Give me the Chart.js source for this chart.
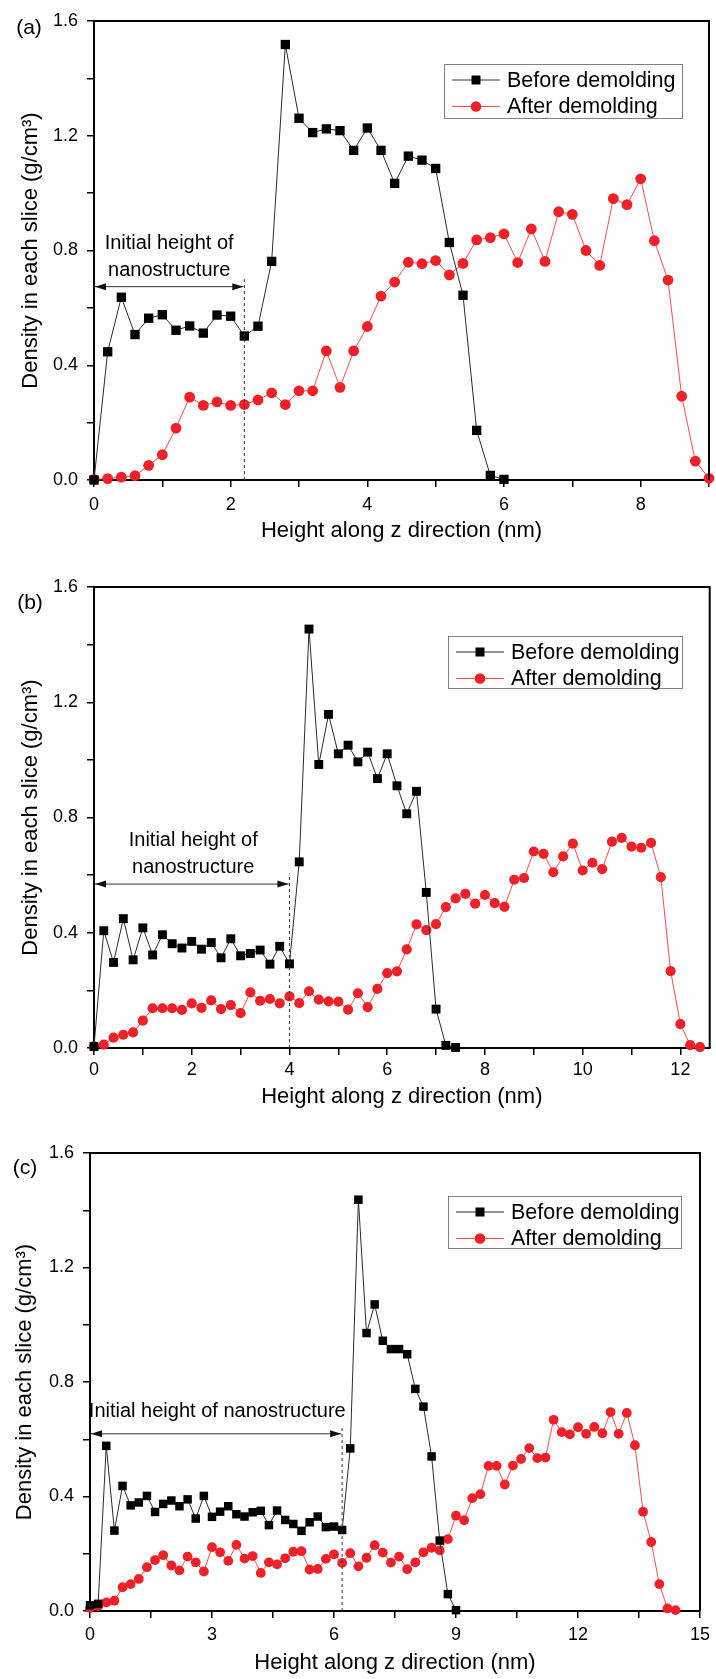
<!DOCTYPE html>
<html>
<head>
<meta charset="utf-8">
<script src="https://cdn.jsdelivr.net/npm/chart.js@4.4.0/dist/chart.umd.min.js"></script>
<style>
    body { margin: 0; background: #fff; }
    .panel { position: absolute; left: 0; width: 716px; }
    canvas { display: block; }
</style>
</head>
<body>
<div class="panel" style="top:0;height:560px"><canvas id="chartA" width="716" height="560"></canvas></div>
<div class="panel" style="top:560px;height:550px"><canvas id="chartB" width="716" height="550"></canvas></div>
<div class="panel" style="top:1110px;height:569px"><canvas id="chartC" width="716" height="569"></canvas></div>
<script>
// sampling heights (nm), shared by all series
const heights = [0, 0.2, 0.4, 0.6, 0.8, 1, 1.2, 1.4, 1.6, 1.8, 2, 2.2, 2.4, 2.6, 2.8, 3, 3.2, 3.4, 3.6, 3.8,
    4, 4.2, 4.4, 4.6, 4.8, 5, 5.2, 5.4, 5.6, 5.8, 6, 6.2, 6.4, 6.6, 6.8, 7, 7.2, 7.4, 7.6, 7.8,
    8, 8.2, 8.4, 8.6, 8.8, 9, 9.2, 9.4, 9.6, 9.8, 10, 10.2, 10.4, 10.6, 10.8, 11, 11.2, 11.4, 11.6, 11.8,
    12, 12.2, 12.4, 12.6, 12.8, 13, 13.2, 13.4, 13.6, 13.8, 14, 14.2, 14.4];

const seriesNames = ['Before demolding', 'After demolding'];

// panel (a)
const beforeA = [0, 0.447, 0.637, 0.507, 0.564, 0.576, 0.522, 0.537, 0.512, 0.575, 0.571, 0.502, 0.536, 0.762,
    1.518, 1.261, 1.211, 1.224, 1.218, 1.149, 1.227, 1.149, 1.034, 1.129, 1.115, 1.086, 0.828, 0.644, 0.173, 0.016, 0.002];
const afterA = [0.002, 0.005, 0.01, 0.015, 0.051, 0.088, 0.181, 0.289, 0.26, 0.272, 0.26, 0.263, 0.279, 0.304,
    0.263, 0.311, 0.311, 0.45, 0.323, 0.45, 0.535, 0.641, 0.69, 0.759, 0.754, 0.765, 0.715, 0.755, 0.837, 0.845,
    0.858, 0.758, 0.875, 0.762, 0.935, 0.926, 0.8, 0.748, 0.981, 0.96, 1.05, 0.834, 0.697, 0.292, 0.066, 0.006];

// panel (b)
const beforeB = [0.005, 0.407, 0.297, 0.449, 0.306, 0.417, 0.323, 0.393, 0.362, 0.347, 0.370, 0.343, 0.366, 0.313,
    0.379, 0.320, 0.328, 0.340, 0.291, 0.353, 0.292, 0.646, 1.454, 0.984, 1.158, 1.021, 1.051, 0.993, 1.027, 0.935,
    1.021, 0.910, 0.813, 0.891, 0.540, 0.135, 0.009, 0.002];
const afterB = [0.006, 0.012, 0.036, 0.046, 0.054, 0.095, 0.138, 0.138, 0.138, 0.132, 0.155, 0.139, 0.165, 0.135,
    0.149, 0.121, 0.193, 0.164, 0.170, 0.155, 0.179, 0.156, 0.197, 0.168, 0.162, 0.161, 0.133, 0.190, 0.142, 0.205,
    0.260, 0.266, 0.342, 0.429, 0.409, 0.430, 0.489, 0.519, 0.535, 0.501, 0.531, 0.503, 0.490, 0.584, 0.590, 0.682,
    0.674, 0.610, 0.665, 0.709, 0.616, 0.643, 0.621, 0.716, 0.729, 0.699, 0.695, 0.712, 0.593, 0.267, 0.083, 0.010, 0.003];

// panel (c)
const beforeC = [0.02, 0.025, 0.577, 0.281, 0.437, 0.369, 0.379, 0.402, 0.346, 0.374, 0.386, 0.366, 0.390, 0.323,
    0.402, 0.329, 0.347, 0.366, 0.338, 0.330, 0.345, 0.350, 0.300, 0.351, 0.318, 0.304, 0.280, 0.310, 0.330, 0.293,
    0.295, 0.283, 0.568, 1.437, 0.971, 1.071, 0.944, 0.915, 0.915, 0.897, 0.776, 0.714, 0.540, 0.246, 0.059, 0.003];
const afterC = [0.01, 0.017, 0.03, 0.036, 0.083, 0.094, 0.112, 0.153, 0.178, 0.195, 0.159, 0.142, 0.190, 0.170,
    0.138, 0.223, 0.205, 0.175, 0.231, 0.183, 0.192, 0.133, 0.170, 0.163, 0.184, 0.207, 0.209, 0.145, 0.147, 0.182,
    0.198, 0.168, 0.202, 0.156, 0.186, 0.230, 0.204, 0.169, 0.190, 0.146, 0.170, 0.205, 0.221, 0.212, 0.251, 0.333,
    0.317, 0.394, 0.408, 0.507, 0.507, 0.442, 0.508, 0.531, 0.569, 0.534, 0.536, 0.668, 0.625, 0.617, 0.642, 0.619,
    0.643, 0.621, 0.695, 0.619, 0.692, 0.579, 0.347, 0.241, 0.094, 0.009, 0.003];

// tick labels
const yLabels = [0, 0.4, 0.8, 1.2, 1.6];
const xLabelsA = [0, 2, 4, 6, 8];
const xLabelsB = [0, 2, 4, 6, 8, 10, 12];
const xLabelsC = [0, 3, 6, 9, 12, 15];

const FONT = '"Liberation Sans", Arial, sans-serif';
const BLACK_LINE = '#2a2a2a';
const RED_LINE = '#ff4a4a';
const RED_MARK = '#ee2028';

function toPoints(values) {
    return values.map((v, i) => ({ x: heights[i], y: v }));
}

function hasLabel(list, v) {
    return list.some(t => Math.abs(t - v) < 1e-6);
}

// frame, "initial height" annotation, legend box, panel tag
const panelDecor = {
    id: 'panelDecor',
    afterDraw(chart, args, o) {
        const { ctx, chartArea: a, scales: { x, y } } = chart;
        ctx.save();
        ctx.strokeStyle = '#000';
        ctx.lineWidth = 2;
        ctx.beginPath();
        ctx.moveTo(a.left, a.top);
        ctx.lineTo(a.right, a.top);
        ctx.lineTo(a.right, a.bottom);
        ctx.stroke();

        // dashed line at the initial height
        const mx = x.getPixelForValue(o.mark);
        ctx.strokeStyle = '#333';
        ctx.lineWidth = 1;
        ctx.setLineDash([3, 3]);
        ctx.beginPath();
        ctx.moveTo(mx, y.getPixelForValue(0));
        ctx.lineTo(mx, y.getPixelForValue(o.dashTop));
        ctx.stroke();
        ctx.setLineDash([]);

        // double arrow
        const ay = y.getPixelForValue(o.arrowY);
        const x0 = x.getPixelForValue(0) + 1;
        const x1 = mx - 1;
        ctx.beginPath();
        ctx.moveTo(x0, ay);
        ctx.lineTo(x1, ay);
        ctx.stroke();
        ctx.fillStyle = '#111';
        ctx.beginPath();
        ctx.moveTo(x0, ay);
        ctx.lineTo(x0 + 11, ay - 3.5);
        ctx.lineTo(x0 + 11, ay + 3.5);
        ctx.closePath();
        ctx.fill();
        ctx.beginPath();
        ctx.moveTo(x1, ay);
        ctx.lineTo(x1 - 11, ay - 3.5);
        ctx.lineTo(x1 - 11, ay + 3.5);
        ctx.closePath();
        ctx.fill();

        ctx.fillStyle = '#000';
        ctx.font = '20px ' + FONT;
        ctx.textAlign = 'center';
        ctx.textBaseline = 'middle';
        o.text.forEach((line, i) => {
            ctx.fillText(line, x.getPixelForValue(o.textX), y.getPixelForValue(o.textY[i]));
        });

        // legend
        const L = o.legend;
        ctx.strokeStyle = '#808080';
        ctx.lineWidth = 1;
        ctx.strokeRect(L.left + 0.5, L.top + 0.5, L.width, L.height);
        ctx.textAlign = 'left';
        ctx.font = '21.5px ' + FONT;
        const rows = [
            { name: seriesNames[0], line: BLACK_LINE, color: '#000', square: true },
            { name: seriesNames[1], line: RED_LINE, color: RED_MARK, square: false }
        ];
        rows.forEach((r, i) => {
            const cy = L.top + 16 + i * 26.5;
            ctx.strokeStyle = r.line;
            ctx.beginPath();
            ctx.moveTo(L.left + 8, cy);
            ctx.lineTo(L.left + 56, cy);
            ctx.stroke();
            ctx.fillStyle = r.color;
            ctx.beginPath();
            if (r.square) ctx.rect(L.left + 27.5, cy - 4.5, 9, 9);
            else ctx.arc(L.left + 32, cy, 5.3, 0, Math.PI * 2);
            ctx.fill();
            ctx.fillStyle = '#000';
            ctx.fillText(r.name, L.left + 63, cy + 1);
        });

        ctx.font = '21px ' + FONT;
        ctx.textAlign = 'center';
        ctx.fillText(o.tag, o.tagX, o.tagY);
        ctx.restore();
    }
};

function makeChart(id, p) {
    return new Chart(document.getElementById(id), {
        type: 'line',
        data: {
            datasets: [
                {
                    label: seriesNames[0],
                    data: toPoints(p.before),
                    borderColor: BLACK_LINE,
                    borderWidth: 1,
                    pointStyle: 'rect',
                    pointRadius: p.sq,
                    pointBackgroundColor: '#000',
                    pointBorderWidth: 0,
                    tension: 0,
                    clip: false
                },
                {
                    label: seriesNames[1],
                    data: toPoints(p.after),
                    borderColor: RED_LINE,
                    borderWidth: 1,
                    pointStyle: 'circle',
                    pointRadius: p.dot,
                    pointBackgroundColor: RED_MARK,
                    pointBorderWidth: 0,
                    tension: 0,
                    clip: false
                }
            ]
        },
        options: {
            responsive: false,
            animation: false,
            devicePixelRatio: 1,
            layout: { padding: { top: p.top, right: p.right, left: 0, bottom: 0 } },
            plugins: {
                legend: { display: false },
                tooltip: { enabled: false },
                panelDecor: p.decor
            },
            scales: {
                x: {
                    type: 'linear',
                    min: 0,
                    max: p.xMax,
                    afterFit: s => { s.height = p.xHeight; },
                    ticks: {
                        stepSize: p.xStep,
                        includeBounds: false,
                        padding: p.xPad,
                        color: '#000',
                        font: { family: FONT, size: 18 },
                        maxRotation: 0,
                        autoSkip: false,
                        callback: v => hasLabel(p.xLabels, v) ? String(v) : ''
                    },
                    grid: { drawOnChartArea: false, drawTicks: true, tickLength: 7, color: '#000', lineWidth: 1.5 },
                    border: { display: true, color: '#000', width: 2 },
                    title: {
                        display: true,
                        text: 'Height along z direction (nm)',
                        color: '#000',
                        font: { family: FONT, size: 22 },
                        padding: { top: 0, bottom: p.xTitlePad }
                    }
                },
                y: {
                    min: 0,
                    max: 1.6,
                    afterFit: s => { s.width = p.yWidth; },
                    ticks: {
                        stepSize: 0.2,
                        padding: 9,
                        color: '#000',
                        font: { family: FONT, size: 18 },
                        autoSkip: false,
                        callback: v => hasLabel(yLabels, v) ? v.toFixed(1) : ''
                    },
                    grid: { drawOnChartArea: false, drawTicks: true, tickLength: 7, color: '#000', lineWidth: 1.5 },
                    border: { display: true, color: '#000', width: 2 },
                    title: {
                        display: true,
                        text: 'Density in each slice (g/cm\u00B3)',
                        color: '#000',
                        font: { family: FONT, size: 22 },
                        padding: { top: p.yTitlePad, bottom: 0 }
                    }
                }
            }
        },
        plugins: [panelDecor]
    });
}

makeChart('chartA', {
    before: beforeA, after: afterA,
    xMax: 9, xStep: 1, xLabels: xLabelsA,
    top: 21, right: 7, yWidth: 94, xHeight: 80, xPad: 7, xTitlePad: 16, yTitlePad: 18,
    sq: 6.6, dot: 5.4,
    decor: {
        mark: 2.2, dashTop: 0.70, arrowY: 0.674,
        text: ['Initial height of', 'nanostructure'], textX: 1.1, textY: [0.826, 0.732],
        legend: { left: 444, top: 64, width: 238, height: 54 },
        tag: '(a)', tagX: 29, tagY: 28
    }
});

makeChart('chartB', {
    before: beforeB, after: afterB,
    xMax: 12.6, xStep: 1, xLabels: xLabelsB,
    top: 27, right: 3, yWidth: 94, xHeight: 62, xPad: 4, xTitlePad: 0, yTitlePad: 18,
    sq: 6.3, dot: 5.1,
    decor: {
        mark: 4.0, dashTop: 0.606, arrowY: 0.569,
        text: ['Initial height of', 'nanostructure'], textX: 2.03, textY: [0.72, 0.627],
        legend: { left: 448, top: 76, width: 234, height: 52 },
        tag: '(b)', tagX: 30, tagY: 43
    }
});

makeChart('chartC', {
    before: beforeC, after: afterC,
    xMax: 15, xStep: 1.5, xLabels: xLabelsC,
    top: 43, right: 13, yWidth: 90, xHeight: 68, xPad: 6, xTitlePad: 3, yTitlePad: 12,
    sq: 6, dot: 4.9,
    decor: {
        mark: 6.2, dashTop: 0.64, arrowY: 0.619,
        text: ['Initial height of nanostructure'], textX: 3.13, textY: [0.696],
        legend: { left: 448, top: 86, width: 233, height: 52 },
        tag: '(c)', tagX: 25, tagY: 58
    }
});
</script>
</body>
</html>
